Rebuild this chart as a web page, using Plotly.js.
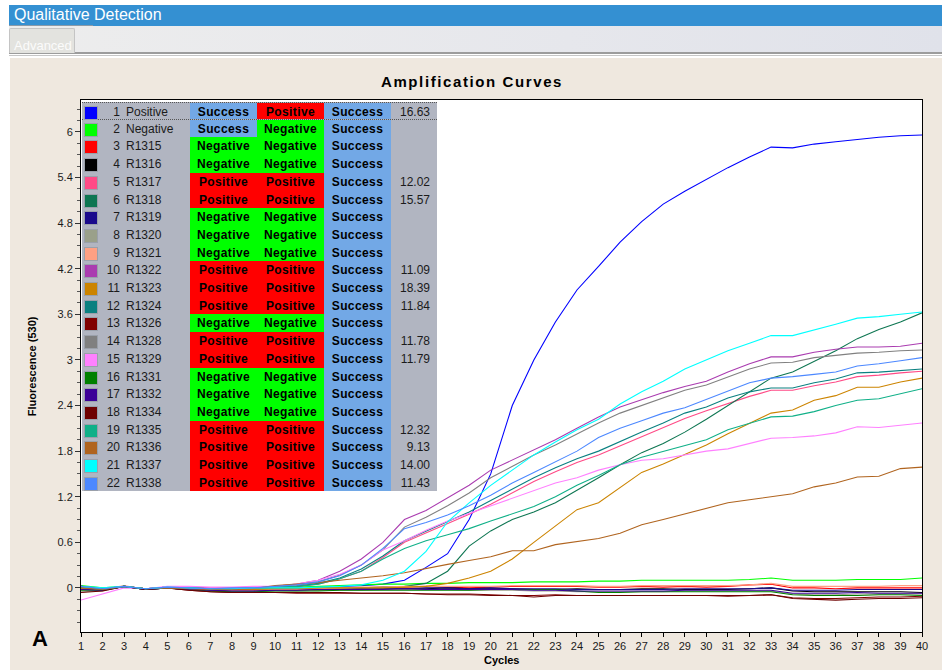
<!DOCTYPE html>
<html>
<head>
<meta charset="utf-8">
<script src="https://cdn.plot.ly/plotly-3.0.1.min.js"></script>
<style>
  html, body { margin: 0; padding: 0; width: 942px; height: 670px; overflow: hidden; background: #fff;
    font-family: "Liberation Sans", Arial, sans-serif; }
  #topbar { position: absolute; left: 9px; top: 5px; width: 933px; height: 21px; background: #3490D2; }
  #topbar span { position: absolute; left: 5px; top: 0px; color: #fff; font-size: 16px; line-height: 20px;
    font-family: "Liberation Sans Narrow", "Arial Narrow", sans-serif; }
  #topbar i { position: absolute; left: 0; top: 20px; width: 84px; height: 1px; background: #8a9aa8; }
  #tabstrip { position: absolute; left: 9px; top: 26px; width: 933px; height: 26px;
    background: linear-gradient(to right, #ededed, #e6e7ec 60%, #e0e2ea); border-bottom: 2px solid #9c9c9c; }
  #tab { position: absolute; left: 0; top: 2px; width: 64px; height: 24px; background: #e3e3df;
    border: 1px solid #c4c4c4; border-bottom: none; border-radius: 2px 2px 0 0; }
  #tab span { position: absolute; left: 4px; top: 9px; font-size: 13px; color: #fbfbfb;
    font-family: "Liberation Sans Narrow", "Arial Narrow", sans-serif; }
  #sep { position: absolute; left: 9px; top: 55px; width: 933px; height: 1px; background: #c6c6c6; }
  #panel { position: absolute; left: 10px; top: 58px; width: 932px; height: 612px; background: #EFE8DF; }
  #chart { position: absolute; left: 0; top: 0; width: 942px; height: 670px; }
  #charttitle { position: absolute; left: 0; top: 73px; width: 944px; text-align: center; font-size: 15px;
    font-weight: bold; letter-spacing: 1.6px; color: #000; line-height: 18px; }
  #results { position: absolute; left: 82px; top: 102px; width: 355px; height: 389px; background: #B1B5C1; }
  .row { position: absolute; left: 0; width: 355px; font-size: 12px; color: #1b1b1b; }
  .row div { position: absolute; top: 0; height: 100%; line-height: 18px; white-space: nowrap; }
  .sw { width: 12px !important; height: 12px !important; top: 3px !important; left: 2px; border: 1px solid #9aa0aa; }
  .num { left: 12px; width: 26px; text-align: right; }
  .name { left: 44px; }
  .cell { width: 67px; text-align: center; font-weight: bold; color: #000; letter-spacing: 0.4px; }
  .ct { left: 309px; width: 39px; text-align: right; }
</style>
</head>
<body>
<div id="topbar"><span>Qualitative Detection</span><i></i></div>
<div id="tabstrip"><div id="tab"><span>Advanced</span></div></div>
<div id="sep"></div>
<div id="panel"></div>
<div id="charttitle">Amplification Curves</div>
<div id="chart"></div>
<div id="results"></div>
<script>
// Amplification run: 22 wells, fluorescence at 530 nm over 40 cycles
const cycles = [1,2,3,4,5,6,7,8,9,10,11,12,13,14,15,16,17,18,19,20,21,22,23,24,25,26,27,28,29,30,31,32,33,34,35,36,37,38,39,40];

const wellNo    = [1,2,3,4,5,6,7,8,9,10,11,12,13,14,15,16,17,18,19,20,21,22];
const wellNames = ["Positive","Negative","R1315","R1316","R1317","R1318","R1319","R1320","R1321","R1322","R1323",
                   "R1324","R1326","R1328","R1329","R1331","R1332","R1334","R1335","R1336","R1337","R1338"];
const wellColors = ["#0000FF","#00FF00","#FF0000","#000000","#FF4A86","#0E7652","#1A0A8C","#9AA08A","#FFA083",
                    "#AA3CB0","#CC8400","#0A8080","#800000","#808080","#FF80FF","#008000","#3C0098","#6E0000",
                    "#10B088","#B0641F","#00FFFF","#4C88FF"];
const callAuto  = ["Success","Success","Negative","Negative","Positive","Positive","Negative","Negative","Negative",
                   "Positive","Positive","Positive","Negative","Positive","Positive","Negative","Negative","Negative",
                   "Positive","Positive","Positive","Positive"];
const callFinal = ["Positive","Negative","Negative","Negative","Positive","Positive","Negative","Negative","Negative",
                   "Positive","Positive","Positive","Negative","Positive","Positive","Negative","Negative","Negative",
                   "Positive","Positive","Positive","Positive"];
const runStatus = ["Success","Success","Success","Success","Success","Success","Success","Success","Success","Success",
                   "Success","Success","Success","Success","Success","Success","Success","Success","Success","Success",
                   "Success","Success"];
const ctValues  = ["16.63","","","","12.02","15.57","","","","11.09","18.39","11.84","","11.78","11.79","","","",
                   "12.32","9.13","14.00","11.43"];

// fluorescence per well, cycles 1..40
const fPositive = [0.02,-0.01,0.02,-0.01,0.01,0.0,-0.01,-0.01,0.0,0.0,0.0,0.01,0.02,0.03,0.05,0.1,0.27,0.45,0.9,1.5,
                   2.4,3.0,3.5,3.92,4.23,4.55,4.82,5.05,5.22,5.38,5.53,5.67,5.8,5.79,5.84,5.87,5.9,5.93,5.95,5.96];
const fNegative = [0.03,0.0,0.02,-0.01,0.01,0.0,-0.02,-0.02,-0.01,0.0,0.01,0.02,0.03,0.04,0.05,0.05,0.06,0.06,0.07,0.07,
                   0.07,0.08,0.08,0.08,0.09,0.09,0.1,0.1,0.1,0.1,0.1,0.11,0.13,0.1,0.1,0.1,0.11,0.11,0.11,0.13];
const fR1315 = [0.02,-0.02,0.02,-0.01,0.0,-0.01,-0.03,-0.03,-0.03,-0.02,-0.02,-0.01,0.0,0.0,0.01,0.01,0.02,0.01,0.0,0.01,
                0.02,0.02,0.02,0.02,0.01,0.01,0.02,0.01,0.02,0.01,0.02,0.04,0.05,0.0,0.0,-0.01,0.0,0.0,0.0,0.0];
const fR1316 = [0.0,-0.03,0.02,-0.02,0.0,-0.02,-0.04,-0.04,-0.03,-0.03,-0.03,-0.03,-0.02,-0.02,-0.01,-0.01,-0.01,0.0,-0.01,-0.01,
                -0.01,-0.02,-0.02,-0.01,-0.02,-0.02,-0.01,-0.01,-0.02,-0.02,-0.02,-0.01,0.0,-0.04,-0.05,-0.05,-0.05,-0.05,-0.05,-0.06];
const fR1317 = [0.01,-0.02,0.02,-0.01,0.01,0.0,-0.01,-0.01,0.0,0.01,0.02,0.05,0.12,0.22,0.4,0.6,0.72,0.85,0.97,1.1,
                1.25,1.4,1.53,1.65,1.75,1.87,2.0,2.12,2.23,2.33,2.43,2.52,2.6,2.6,2.66,2.71,2.78,2.8,2.83,2.85];
const fR1318 = [0.0,-0.02,0.02,-0.01,0.0,-0.01,-0.02,-0.02,-0.02,-0.01,-0.01,0.0,0.0,0.0,0.01,0.02,0.06,0.22,0.55,0.75,
                0.9,1.0,1.12,1.28,1.45,1.62,1.78,1.9,2.05,2.22,2.4,2.58,2.76,2.84,2.98,3.12,3.28,3.4,3.5,3.62];
const fR1319 = [-0.02,-0.03,0.02,-0.02,0.0,-0.02,-0.03,-0.03,-0.04,-0.03,-0.02,-0.02,-0.02,-0.01,-0.01,-0.01,0.0,0.0,-0.01,0.0,
                -0.01,-0.01,-0.01,-0.02,-0.02,-0.02,-0.02,-0.02,-0.01,-0.01,-0.01,-0.01,0.0,-0.03,-0.03,-0.03,-0.02,-0.02,-0.02,-0.02];
const fR1320 = [-0.05,-0.04,0.02,-0.02,0.0,-0.02,-0.04,-0.05,-0.05,-0.04,-0.04,-0.03,-0.03,-0.03,-0.02,-0.02,-0.02,-0.02,-0.03,-0.03,
                -0.03,-0.04,-0.04,-0.05,-0.05,-0.05,-0.05,-0.05,-0.04,-0.04,-0.04,-0.04,-0.04,-0.08,-0.09,-0.09,-0.08,-0.08,-0.08,-0.08];
const fR1321 = [0.0,-0.02,0.03,-0.02,0.01,0.0,-0.02,-0.03,-0.03,-0.02,-0.02,-0.01,0.0,0.01,0.01,0.02,0.02,0.02,0.02,0.02,
                0.03,0.03,0.03,0.03,0.02,0.02,0.03,0.03,0.03,0.03,0.03,0.04,0.06,0.02,0.02,0.02,0.02,0.02,0.03,0.03];
const fR1322 = [0.02,-0.01,0.02,-0.01,0.01,0.01,0.0,0.0,0.01,0.02,0.05,0.1,0.22,0.38,0.6,0.9,1.02,1.18,1.35,1.55,
                1.68,1.82,1.95,2.1,2.25,2.38,2.48,2.57,2.65,2.72,2.84,2.95,3.04,3.04,3.1,3.14,3.17,3.17,3.18,3.22];
const fR1323 = [0.0,-0.02,0.02,-0.01,0.0,-0.01,-0.02,-0.02,-0.02,-0.01,-0.01,0.0,0.0,0.0,0.0,0.01,0.02,0.06,0.13,0.22,
                0.38,0.6,0.82,1.03,1.12,1.32,1.52,1.63,1.75,1.88,2.03,2.17,2.3,2.34,2.47,2.53,2.64,2.64,2.71,2.76];
const fR1324 = [0.02,-0.01,0.02,-0.01,0.01,0.0,-0.01,-0.01,0.0,0.01,0.02,0.06,0.13,0.25,0.42,0.62,0.75,0.88,1.0,1.15,
                1.3,1.45,1.58,1.7,1.8,1.93,2.05,2.17,2.3,2.38,2.5,2.58,2.63,2.63,2.7,2.75,2.83,2.84,2.86,2.88];
const fR1326 = [0.02,-0.02,0.02,-0.02,0.0,-0.03,-0.05,-0.06,-0.06,-0.06,-0.07,-0.07,-0.07,-0.07,-0.07,-0.07,-0.08,-0.08,-0.08,-0.09,
                -0.1,-0.1,-0.09,-0.1,-0.1,-0.1,-0.1,-0.1,-0.1,-0.1,-0.1,-0.1,-0.09,-0.13,-0.14,-0.14,-0.13,-0.12,-0.12,-0.11];
const fR1328 = [0.01,-0.02,0.02,-0.01,0.01,0.0,-0.01,0.0,0.0,0.01,0.03,0.08,0.17,0.3,0.5,0.8,0.93,1.08,1.25,1.45,
                1.6,1.75,1.88,2.03,2.17,2.3,2.4,2.5,2.6,2.67,2.78,2.88,2.96,2.97,3.03,3.06,3.09,3.1,3.12,3.13];
const fR1329 = [-0.16,-0.08,0.0,-0.01,0.02,0.02,0.01,0.01,0.02,0.02,0.05,0.1,0.18,0.3,0.5,0.62,0.76,0.88,0.98,1.08,
                1.18,1.28,1.38,1.45,1.55,1.62,1.68,1.7,1.75,1.8,1.83,1.9,1.97,1.98,2.0,2.04,2.12,2.11,2.14,2.17];
const fR1331 = [-0.03,-0.03,0.02,-0.02,0.0,-0.02,-0.04,-0.05,-0.05,-0.04,-0.04,-0.04,-0.03,-0.03,-0.03,-0.03,-0.03,-0.03,-0.03,-0.02,
                -0.02,-0.02,-0.02,-0.04,-0.06,-0.06,-0.05,-0.05,-0.05,-0.05,-0.05,-0.05,-0.05,-0.09,-0.1,-0.1,-0.1,-0.09,-0.09,-0.1];
const fR1332 = [-0.02,-0.03,0.02,-0.02,0.0,-0.02,-0.03,-0.04,-0.04,-0.03,-0.03,-0.02,-0.02,-0.02,-0.02,-0.01,-0.02,-0.02,-0.02,-0.02,
                -0.02,-0.03,-0.03,-0.04,-0.04,-0.04,-0.04,-0.04,-0.03,-0.03,-0.03,-0.03,-0.03,-0.07,-0.07,-0.07,-0.06,-0.07,-0.07,-0.07];
const fR1334 = [-0.06,-0.04,0.02,-0.02,0.0,-0.03,-0.05,-0.06,-0.06,-0.06,-0.06,-0.06,-0.06,-0.07,-0.07,-0.07,-0.08,-0.09,-0.09,-0.1,
                -0.1,-0.12,-0.1,-0.1,-0.1,-0.1,-0.1,-0.1,-0.1,-0.1,-0.11,-0.1,-0.09,-0.14,-0.15,-0.16,-0.15,-0.14,-0.14,-0.13];
const fR1335 = [0.01,-0.02,0.02,-0.01,0.0,0.0,-0.01,-0.01,0.0,0.01,0.02,0.05,0.12,0.22,0.38,0.52,0.62,0.7,0.78,0.88,
                0.98,1.07,1.2,1.35,1.48,1.62,1.72,1.8,1.87,1.95,2.08,2.17,2.25,2.26,2.32,2.4,2.47,2.49,2.56,2.62];
const fR1336 = [0.0,-0.02,0.02,-0.01,0.0,-0.01,-0.02,-0.02,-0.01,0.03,0.05,0.07,0.1,0.13,0.16,0.2,0.26,0.31,0.36,0.41,
                0.49,0.49,0.57,0.61,0.65,0.72,0.83,0.9,0.97,1.05,1.12,1.16,1.2,1.24,1.33,1.38,1.46,1.47,1.57,1.59];
const fR1337 = [0.02,0.0,0.02,-0.01,0.01,0.0,-0.01,-0.01,0.0,0.0,0.0,0.01,0.02,0.04,0.1,0.22,0.48,0.87,1.12,1.35,
                1.55,1.75,1.92,2.08,2.22,2.42,2.58,2.72,2.88,3.0,3.12,3.22,3.32,3.32,3.39,3.47,3.55,3.57,3.6,3.63];
const fR1338 = [0.02,-0.01,0.02,-0.01,0.01,0.0,-0.01,0.0,0.0,0.02,0.04,0.08,0.16,0.3,0.52,0.78,0.86,0.96,1.08,1.22,
                1.38,1.52,1.66,1.8,1.98,2.1,2.2,2.3,2.37,2.48,2.6,2.7,2.76,2.78,2.81,2.84,2.92,2.95,2.99,3.03];

const curves = [fPositive,fNegative,fR1315,fR1316,fR1317,fR1318,fR1319,fR1320,fR1321,fR1322,fR1323,
                fR1324,fR1326,fR1328,fR1329,fR1331,fR1332,fR1334,fR1335,fR1336,fR1337,fR1338];

const yTickVals = [0,0.6,1.2,1.8,2.4,3,3.6,4.2,4.8,5.4,6];
const yTickText = ["0","0.6","1.2","1.8","2.4","3","3.6","4.2","4.8","5.4","6"];

const traces = curves.map((ys, i) => ({
  type: 'scatter', mode: 'lines', x: cycles, y: ys,
  name: wellNo[i] + ' ' + wellNames[i],
  line: { color: wellColors[i], width: 1.1 },
  hoverinfo: 'skip'
}));

const tickFont = { family: 'Liberation Sans, Arial, sans-serif', size: 11, color: '#1a1a1a' };

const layout = {
  width: 942, height: 670,
  margin: { l: 81, r: 20, t: 100, b: 38, pad: 0 },
  paper_bgcolor: 'rgba(0,0,0,0)',
  plot_bgcolor: '#ffffff',
  showlegend: false,
  xaxis: {
    range: [1, 40], tickmode: 'array', tickvals: cycles, ticktext: cycles.map(String),
    ticks: 'outside', ticklen: 4, tickcolor: '#000', tickfont: tickFont,
    showline: true, linecolor: '#000', linewidth: 1, mirror: true,
    showgrid: false, zeroline: false, fixedrange: true
  },
  yaxis: {
    range: [-0.58, 6.42], tickmode: 'array', tickvals: yTickVals, ticktext: yTickText,
    ticks: 'outside', ticklen: 5, tickcolor: '#333', tickfont: tickFont,
    minor: { ticks: 'outside', ticklen: 3, tickcolor: '#555', dtick: 0.15, tick0: 0 },
    showline: true, linecolor: '#000', linewidth: 1, mirror: true,
    showgrid: false, zeroline: false, fixedrange: true
  },
  annotations: [
    { text: '<b>Cycles</b>', xref: 'paper', yref: 'paper', x: 0.5, y: -0.053, showarrow: false,
      xanchor: 'center', yanchor: 'middle', font: { family: 'Liberation Sans, Arial, sans-serif', size: 11, color: '#000' } },
    { text: '<b>Fluorescence (530)</b>', xref: 'paper', yref: 'paper', x: -0.058, y: 0.5, textangle: -90,
      showarrow: false, xanchor: 'center', yanchor: 'middle',
      font: { family: 'Liberation Sans, Arial, sans-serif', size: 11, color: '#000' } },
    { text: '<b>A</b>', xref: 'paper', yref: 'paper', x: -0.049, y: -0.012, showarrow: false,
      xanchor: 'center', yanchor: 'middle', font: { family: 'Liberation Sans, Arial, sans-serif', size: 22, color: '#000' } }
  ]
};

Plotly.newPlot('chart', traces, layout, { staticPlot: true, displayModeBar: false });

// results grid drawn over the upper-left of the plot
const cellBg = { Success: '#72A8E6', Positive: '#FF0000', Negative: '#00FF00' };
const grid = document.getElementById('results');
const rowH = 17.7;
wellNames.forEach((nm, i) => {
  const r = document.createElement('div');
  r.className = 'row';
  const top = Math.round(i * rowH);
  const bottom = Math.round((i + 1) * rowH);
  r.style.top = top + 'px';
  r.style.height = (bottom - top) + 'px';
  if (i === 0) {
    r.style.borderTop = '1px dotted #555';
    r.style.borderBottom = '1px dotted #555';
    r.style.boxSizing = 'border-box';
  }
  const parts = [
    `<div class="sw" style="background:${wellColors[i]}"></div>`,
    `<div class="num">${wellNo[i]}</div>`,
    `<div class="name">${nm}</div>`,
    `<div class="cell" style="left:108px;background:${cellBg[callAuto[i]]}">${callAuto[i]}</div>`,
    `<div class="cell" style="left:175px;background:${cellBg[callFinal[i]]}">${callFinal[i]}</div>`,
    `<div class="cell" style="left:242px;background:${cellBg[runStatus[i]]}">${runStatus[i]}</div>`,
    `<div class="ct">${ctValues[i]}</div>`
  ];
  r.innerHTML = parts.join('');
  grid.appendChild(r);
});
</script>
</body>
</html>
